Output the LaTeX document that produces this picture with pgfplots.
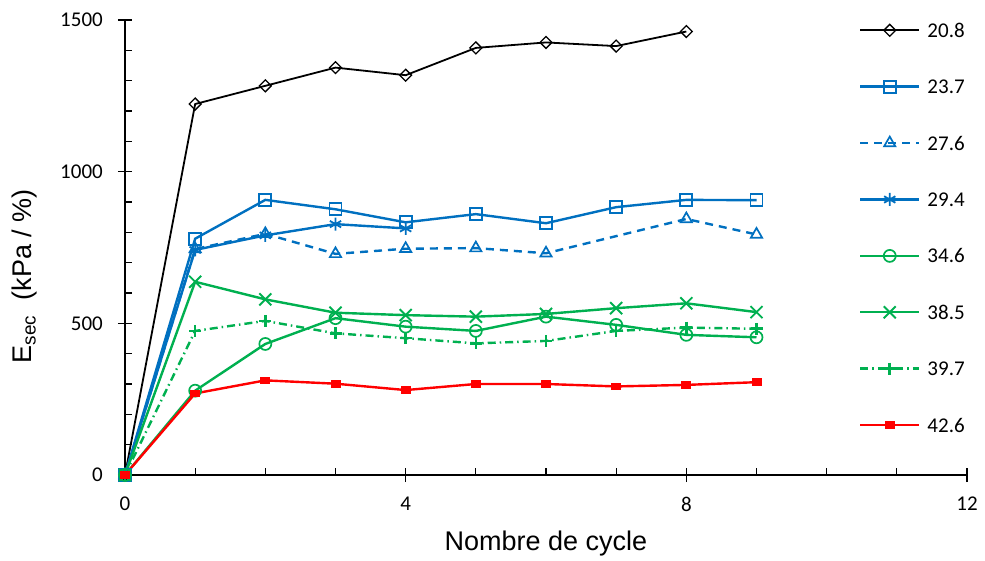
\documentclass[border=0pt]{standalone}
\usepackage{pgfplots}
\pgfplotsset{compat=1.18}
\usepackage{fontspec}
\setmainfont{Carlito}
\newfontfamily\arialf{Liberation Sans}
\definecolor{xlblue}{RGB}{0,112,192}
\definecolor{xlgreen}{RGB}{0,176,80}
\definecolor{xlred}{RGB}{255,0,0}
\begin{document}
\begin{tikzpicture}
\path[use as bounding box] (-125pt,-85pt) rectangle (860pt,475pt);
\begin{axis}[
    scale only axis,
    width=842pt, height=455pt,
    xmin=0, xmax=12, ymin=0, ymax=1500,
    axis x line=bottom, axis y line=left,
    axis line style={-, line width=1.3pt},
    xtick={0,4,8,12}, ytick={0,500,1000,1500},
    minor x tick num=3, minor y tick num=4,
    tick align=inside,
    major tick length=14pt, minor tick length=7pt,
    tick style={line width=1.3pt, black},
    major x tick style={yshift=-7pt},
    major y tick style={xshift=-7pt},
    /pgf/number format/assume math mode=true,
    /pgf/number format/1000 sep={},
    yticklabel style={font=\fontsize{21}{24}\selectfont, anchor=east, inner sep=0pt, xshift=-22pt},
    xticklabel style={font=\fontsize{21}{24}\selectfont, anchor=north, inner sep=0pt, yshift=-22pt},
    xlabel={Nombre de cycle},
    ylabel={E\textsubscript{sec}\ \ (kPa / \%)},
    every axis x label/.style={at={(rel axis cs:0.5,0)}, yshift=-75pt, anchor=base, font=\arialf\fontsize{27}{30}\selectfont},
    every axis y label/.style={at={(rel axis cs:0,0.437)}, xshift=-93pt, rotate=90, anchor=base, font=\arialf\fontsize{27}{30}\selectfont},
    clip=false,
    legend style={at={(rel axis cs:0.868,1.002)}, anchor=north west, draw=none,
        font=\fontsize{21}{24}\selectfont, row sep=38.4pt, column sep=7pt,
        nodes={inner sep=0pt, text height=16pt, text depth=2pt}},
    legend cell align=left,
    legend image code/.code={\draw[mark repeat=2,mark phase=2,#1] plot coordinates {(0pt,0pt) (29.5pt,0pt) (59pt,0pt)};},
]
\addplot[black, line width=1.8pt, mark=square, mark size=4.2pt, mark options={rotate=45, solid, fill=white, line width=1.3pt}]
coordinates {(0,0) (1,1223) (2,1283) (3,1343) (4,1318) (5,1408) (6,1426) (7,1414) (8,1462)};
\addlegendentry{20.8}

\addplot[xlblue, line width=2.4pt, mark=square, mark size=6pt, mark options={solid, fill=white, line width=1.7pt}]
coordinates {(0,0) (1,779) (2,907) (3,876) (4,833) (5,860) (6,830) (7,883) (8,907) (9,906)};
\addlegendentry{23.7}

\addplot[xlblue, line width=2.4pt, dash pattern=on 8pt off 6pt, mark=triangle, mark size=6.5pt, mark options={solid, fill=white, line width=1.7pt}]
coordinates {(0,0) (1,745) (2,795) (3,729) (4,746) (5,748) (6,731) (8,844) (9,793)};
\addlegendentry{27.6}

\addplot[xlblue, line width=2.4pt, mark=asterisk, mark size=6.5pt, mark options={solid, line width=1.8pt}]
coordinates {(0,0) (1,742) (2,790) (3,827) (4,813)};
\addlegendentry{29.4}

\addplot[xlgreen, line width=2.4pt, mark=o, mark size=6pt, mark options={solid, fill=white, line width=1.7pt}]
coordinates {(0,0) (1,278) (2,432) (3,517) (4,489) (5,475) (6,522) (7,495) (8,462) (9,454)};
\addlegendentry{34.6}

\addplot[xlgreen, line width=2.4pt, mark=x, mark size=8.5pt, mark options={solid, line width=1.9pt}]
coordinates {(0,0) (1,637) (2,579) (3,535) (4,527) (5,522) (6,531) (7,550) (8,566) (9,537)};
\addlegendentry{38.5}

\addplot[xlgreen, line width=2.4pt, dash pattern=on 8pt off 4pt on 1.5pt off 4pt, mark=+, mark size=6pt, mark options={solid, line width=2.6pt}]
coordinates {(0,0) (1,475) (2,508) (3,467) (4,451) (5,434) (6,442) (7,475) (8,486) (9,482)};
\addlegendentry{39.7}

\addplot[xlred, line width=2.4pt, mark=square*, mark size=3.8pt, mark options={solid, yscale=0.7}]
coordinates {(0,0) (1,269) (2,312) (3,301) (4,280) (5,300) (6,300) (7,292) (8,297) (9,306)};
\addlegendentry{42.6}
\end{axis}
\end{tikzpicture}
\end{document}
